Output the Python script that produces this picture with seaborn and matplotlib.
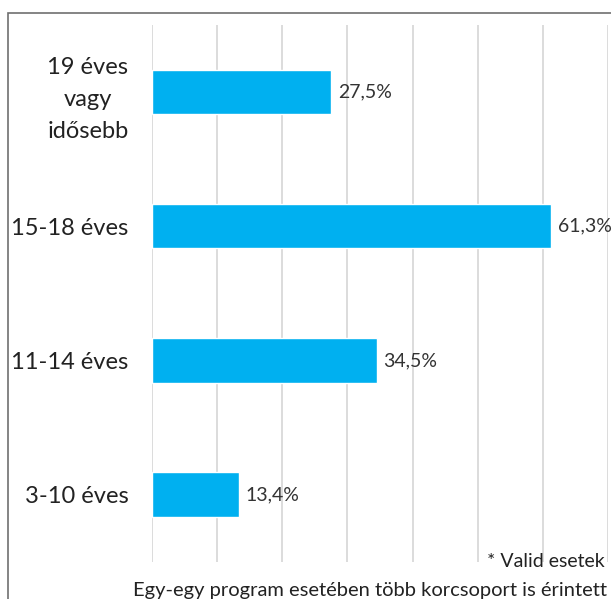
import pandas as pd
import matplotlib.pyplot as plt
import matplotlib.patches as patches
import seaborn as sns

categories = ["19 éves\nvagy\nidősebb", "15-18 éves", "11-14 éves", "3-10 éves"]
values = [27.5, 61.3, 34.5, 13.4]
labels = ["27,5%", "61,3%", "34,5%", "13,4%"]

df = pd.DataFrame({"Korcsoport": categories, "Arany": values})

sns.set_style("white")
plt.rcParams["font.family"] = ["Lato", "DejaVu Sans"]

fig = plt.figure(figsize=(6.11, 5.99), dpi=100)
ax = fig.add_axes([0.2488, 0.0624, 0.7462, 0.8959])
sns.barplot(data=df, x="Arany", y="Korcsoport", color="#00B0F0",
            width=0.33, saturation=1, ax=ax, zorder=2)

ax.set_xlim(0, 70)
ax.set_xticks(range(0, 71, 10))
ax.xaxis.grid(True, color="#D9D9D9", linewidth=1.3, zorder=0)
ax.set_axisbelow(True)
ax.tick_params(axis="x", length=0, labelbottom=False)
ax.tick_params(axis="y", length=0, labelsize=17, pad=17, colors="#222222")
for lbl in ax.get_yticklabels():
    lbl.set_horizontalalignment("right")
    lbl.set_multialignment("center")
    lbl.set_linespacing(1.65)
ax.set_xlabel("")
ax.set_ylabel("")
for s in ax.spines.values():
    s.set_visible(False)

for i, (v, t) in enumerate(zip(values, labels)):
    ax.text(v + 1.0, i, t, va="center", ha="left", fontsize=14, color="#333333")

fig.text(0.99, 0.062, "* Valid esetek", ha="right", va="center",
         fontsize=14, color="#222222")
fig.text(0.993, 0.015, "Egy-egy program esetében több korcsoport is érintett",
         ha="right", va="center", fontsize=14.5, color="#222222")

frame = patches.Rectangle((8 / 611, -0.1), 1.1, 1 - 13 / 599 + 0.1,
                          transform=fig.transFigure, fill=False,
                          edgecolor="#6F6F6F", linewidth=1.2, clip_on=False)
fig.add_artist(frame)

fig.savefig("out.png", dpi=100)
